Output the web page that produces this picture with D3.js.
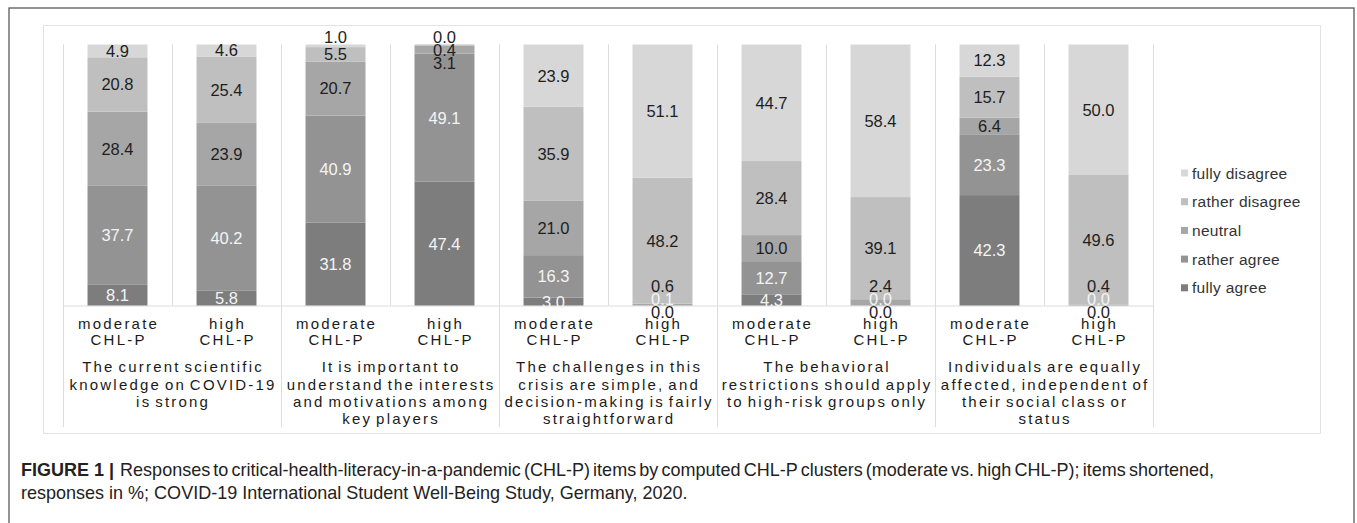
<!DOCTYPE html>
<html>
<head>
<meta charset="utf-8">
<script src="https://cdn.jsdelivr.net/npm/d3@7"></script>
<style>
  html, body { margin: 0; padding: 0; background: #fff; }
  svg { display: block; font-family: "Liberation Sans", Arial, sans-serif; }
</style>
</head>
<body>
<svg id="chart" width="1357" height="523"></svg>
<script>
// ---------- DATA ----------
const seriesNames = ["fully agree", "rather agree", "neutral", "rather disagree", "fully disagree"];
const clusters = ["moderate CHL-P", "high CHL-P"];
const clusterLines = [["moderate", "CHL-P"], ["high", "CHL-P"]];
const itemLines = [
  ["The current scientific", "knowledge on COVID-19", "is strong"],
  ["It is important to", "understand the interests", "and motivations among", "key players"],
  ["The challenges in this", "crisis are simple, and", "decision-making is fairly", "straightforward"],
  ["The behavioral", "restrictions should apply", "to high-risk groups only"],
  ["Individuals are equally", "affected, independent of", "their social class or", "status"]
];
// order: item1 moderate, item1 high, item2 moderate, item2 high, ...
const fullyAgree     = [8.1, 5.8, 31.8, 47.4, 3.0, 0.0, 4.3, 0.0, 42.3, 0.0];
const ratherAgree    = [37.7, 40.2, 40.9, 49.1, 16.3, 0.1, 12.7, 0.0, 23.3, 0.0];
const neutralVals    = [28.4, 23.9, 20.7, 3.1, 21.0, 0.6, 10.0, 2.4, 6.4, 0.4];
const ratherDisagree = [20.8, 25.4, 5.5, 0.4, 35.9, 48.2, 28.4, 39.1, 15.7, 49.6];
const fullyDisagree  = [4.9, 4.6, 1.0, 0.0, 23.9, 51.1, 44.7, 58.4, 12.3, 50.0];
const captionBold = "FIGURE 1 |";
const captionLine1 = "Responses to critical-health-literacy-in-a-pandemic (CHL-P) items by computed CHL-P clusters (moderate vs. high CHL-P); items shortened,";
const captionLine2 = "responses in %; COVID-19 International Student Well-Being Study, Germany, 2020.";

// ---------- BUILD TABLE ----------
const valueArrays = [fullyAgree, ratherAgree, neutralVals, ratherDisagree, fullyDisagree];
const rows = fullyAgree.map((_, i) => {
  const r = { key: "b" + i, item: Math.floor(i / 2), cluster: i % 2 };
  seriesNames.forEach((s, j) => r[s] = valueArrays[j][i]);
  return r;
});

const colors = d3.scaleOrdinal().domain(seriesNames)
  .range(["#7d7d7d", "#939393", "#a6a6a6", "#bfbfbf", "#d7d7d7"]);
const labelColor = { "fully agree": "#f4f4f4", "rather agree": "#f4f4f4", "neutral": "#1e1e1e", "rather disagree": "#1e1e1e", "fully disagree": "#1e1e1e" };

const svg = d3.select("#chart");

// outer frame & inner box
svg.append("rect").attr("x", 9).attr("y", 8).attr("width", 1345).attr("height", 530)
  .attr("fill", "none").attr("stroke", "#5a5a5a").attr("stroke-width", 1.3);
svg.append("rect").attr("x", 43.5).attr("y", 25.5).attr("width", 1277).attr("height", 408)
  .attr("fill", "none").attr("stroke", "#e3e3e3").attr("stroke-width", 1);

const x = d3.scaleBand().domain(rows.map(d => d.key)).range([63, 1153])
  .paddingInner(0.45).paddingOuter(0.225);
const y = d3.scaleLinear().domain([0, 1]).range([305.5, 44.5]);
const step = x.step();
const half = (step - x.bandwidth()) / 2;

const stack = d3.stack().keys(seriesNames).offset(d3.stackOffsetExpand);
const stacked = stack(rows);

// grid lines between bars
const grid = svg.append("g").attr("stroke", "#dcdcdc").attr("stroke-width", 1);
const bounds = rows.map(d => x(d.key) - half).concat([x(rows[rows.length - 1].key) + x.bandwidth() + half]);
bounds.forEach((bx, i) => {
  const isGroup = i % 2 === 0;
  grid.append("line").attr("x1", Math.round(bx) + 0.5).attr("x2", Math.round(bx) + 0.5)
    .attr("y1", y(1)).attr("y2", isGroup ? 427 : y(0));
});
grid.append("line").attr("x1", bounds[0]).attr("x2", bounds[bounds.length - 1])
  .attr("y1", y(0) + 0.5).attr("y2", y(0) + 0.5);

// bars
svg.append("g").selectAll("g").data(stacked).join("g")
  .attr("fill", s => colors(s.key))
  .selectAll("rect").data(s => s).join("rect")
  .attr("x", d => x(d.data.key))
  .attr("width", x.bandwidth())
  .attr("y", d => y(d[1]))
  .attr("height", d => Math.max(0, y(d[0]) - y(d[1])));

// value labels with simple collision handling
const gap = 13;
const mid = (y(0) + y(1)) / 2;
const labels = [];
rows.forEach((r, bi) => {
  const ys = stacked.map(s => (y(s[bi][0]) + y(s[bi][1])) / 2);
  if (r["fully agree"] < 1) ys[0] = y(0) + 7;
  if (r["fully disagree"] < 2) ys[4] = y(1) - 7;
  for (let i = 1; i < 5; i++) {
    if (ys[i] > mid && ys[i] > ys[i - 1] - gap) ys[i] = ys[i - 1] - gap;
  }
  for (let i = 3; i >= 0; i--) {
    if (ys[i] < mid && ys[i] < ys[i + 1] + gap) ys[i] = ys[i + 1] + gap;
  }
  seriesNames.forEach((s, j) => {
    let col = labelColor[s];
    if (j === 0 && r[s] < 1) col = "#1e1e1e";
    labels.push({ x: x(r.key) + x.bandwidth() / 2, y: ys[j], v: r[s], c: col });
  });
});
svg.append("g").attr("text-anchor", "middle").attr("font-size", 16.5)
  .selectAll("text").data(labels).join("text")
  .attr("x", d => d.x).attr("y", d => d.y).attr("dy", "0.36em")
  .attr("fill", d => d.c)
  .text(d => d3.format(".1f")(d.v));

// category labels (letter-spaced)
const ls = 2.2;
const catG = svg.append("g").attr("text-anchor", "middle").attr("font-size", 15)
  .attr("fill", "#1a1a1a").style("letter-spacing", ls + "px").style("word-spacing", "-2.5px");
rows.forEach(r => {
  clusterLines[r.cluster].forEach((t, k) => {
    catG.append("text").attr("x", x(r.key) + x.bandwidth() / 2 + ls / 2)
      .attr("y", 324 + k * 16).attr("dy", "0.36em").text(t);
  });
});
itemLines.forEach((lines, gi) => {
  const cx = (bounds[gi * 2] + bounds[gi * 2 + 2]) / 2;
  lines.forEach((t, k) => {
    catG.append("text").attr("x", cx + ls / 2).attr("y", 367 + k * 17.2).attr("dy", "0.36em").text(t);
  });
});

// legend
const legendOrder = seriesNames.slice().reverse();
const lg = svg.append("g");
legendOrder.forEach((s, i) => {
  const ly = 173 + i * 28.7;
  lg.append("rect").attr("x", 1181).attr("y", ly - 3.5).attr("width", 7).attr("height", 7).attr("fill", colors(s));
  lg.append("text").attr("x", 1192).attr("y", ly).attr("dy", "0.36em")
    .attr("font-size", 15.5).style("letter-spacing", "0.3px").attr("fill", "#333").text(s);
});

// caption: second line sets the horizontal scale; first line justified
const capFS = 17.5;
const capY1 = 476, capY2 = 499;
const cap = svg.append("g").attr("fill", "#222").attr("font-size", capFS);
const t2 = cap.append("text").attr("x", 0).attr("y", 0).text(captionLine2);
const sx = 667 / t2.node().getComputedTextLength();
t2.attr("transform", `translate(21,${capY2}) scale(${sx},1)`);
const tb = cap.append("text").attr("font-weight", "bold").text(captionBold)
  .attr("transform", `translate(21,${capY1}) scale(${sx},1)`);
const bw = tb.node().getComputedTextLength() * sx;
const startX = 21 + bw + 6;
const t1 = cap.append("text").text(captionLine1)
  .attr("transform", `translate(${startX},${capY1}) scale(${sx},1)`);
const nSpaces = captionLine1.split(" ").length - 1;
const w1 = t1.node().getComputedTextLength();
t1.style("word-spacing", (((1214 - startX) / sx - w1) / nSpaces) + "px");
</script>
</body>
</html>
